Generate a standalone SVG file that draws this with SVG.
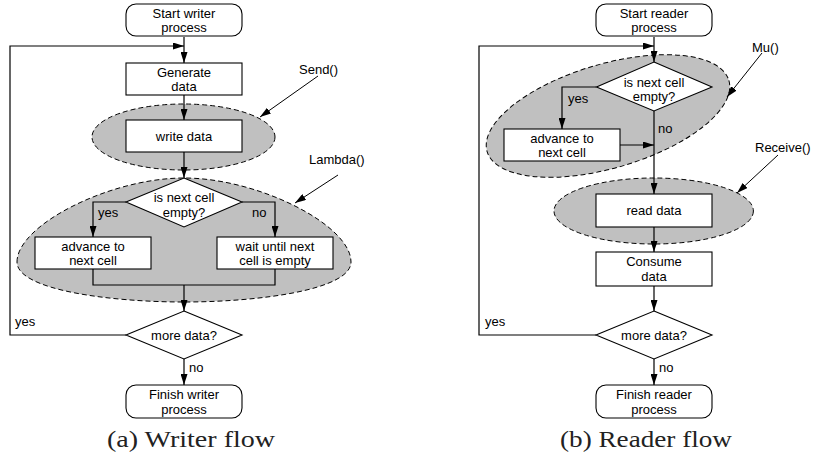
<svg xmlns="http://www.w3.org/2000/svg" width="816" height="458" viewBox="0 0 816 458">
  <defs>
    <marker id="ah" markerUnits="userSpaceOnUse" markerWidth="11" markerHeight="7" refX="11" refY="3.5" orient="auto">
      <path d="M0,0 L11,3.5 L0,7 Z" fill="#000"/>
    </marker>
    <style>
      .region { fill: #c0c0c0; stroke: #000; stroke-width: 1; stroke-dasharray: 5 3; }
      .box { fill: #fff; stroke: #000; stroke-width: 1.1; }
      .term { fill: #fff; stroke: #000; stroke-width: 1.1; }
      .dec { fill: #fff; stroke: #000; stroke-width: 1.1; }
      .edge { fill: none; stroke: #000; stroke-width: 1.2; }
      .call { fill: none; stroke: #000; stroke-width: 1; }
      text { font-family: "Liberation Sans", Arial, sans-serif; font-size: 13px; fill: #000; }
      .c { text-anchor: middle; }
      .cap { font-family: "Liberation Serif", "Times New Roman", serif; font-size: 24px; fill: #222; text-anchor: middle; }
    </style>
  </defs>

  <!-- ===== (a) writer flow: dashed function regions ===== -->
  <g id="send-region">
    <ellipse class="region" cx="183.5" cy="137" rx="91.5" ry="33"/>
  </g>
  <g id="lambda-region">
    <path class="region" d="M17,262 C17,225 110,178 184,178 C258,178 351,225 351,262 C351,290 258,302 184,302 C110,302 17,290 17,262 Z"/>
  </g>

  <!-- ===== (b) reader flow: dashed function regions ===== -->
  <g id="mu-region">
    <ellipse class="region" cx="0" cy="0" rx="126" ry="52" transform="translate(608,116) rotate(-16.4)"/>
  </g>
  <g id="receive-region">
    <ellipse class="region" cx="653.7" cy="211" rx="99.7" ry="33"/>
  </g>

  <g id="connectors">
    <!-- writer -->
    <path class="edge" d="M184,37 V63" marker-end="url(#ah)"/>
    <path class="edge" d="M126,335 H10 V46 H184" marker-end="url(#ah)"/>
    <path class="edge" d="M184,95 V120" marker-end="url(#ah)"/>
    <path class="edge" d="M184,152 V178" marker-end="url(#ah)"/>
    <path class="edge" d="M126,202 H93 V237" marker-end="url(#ah)"/>
    <path class="edge" d="M242,202 H275 V237" marker-end="url(#ah)"/>
    <path class="edge" d="M93,269 V285 H275 V269"/>
    <path class="edge" d="M184,285 V311" marker-end="url(#ah)"/>
    <path class="edge" d="M184,359 V385" marker-end="url(#ah)"/>
    <path class="call" d="M318,76 L260,117" marker-end="url(#ah)"/>
    <path class="call" d="M338,175 L295,203" marker-end="url(#ah)"/>
    <!-- reader -->
    <path class="edge" d="M654,37 V62" marker-end="url(#ah)"/>
    <path class="edge" d="M596,335 H479 V46 H654" marker-end="url(#ah)"/>
    <path class="edge" d="M596.5,87 H562 V129" marker-end="url(#ah)"/>
    <path class="edge" d="M620,145 H654" marker-end="url(#ah)"/>
    <path class="edge" d="M654,111 V194" marker-end="url(#ah)"/>
    <path class="edge" d="M654,227 V252" marker-end="url(#ah)"/>
    <path class="edge" d="M654,286 V311" marker-end="url(#ah)"/>
    <path class="edge" d="M654,359 V385" marker-end="url(#ah)"/>
    <path class="call" d="M762,53 L727,97" marker-end="url(#ah)"/>
    <path class="call" d="M778,155 L737,193" marker-end="url(#ah)"/>

    <!-- branch labels -->
    <text x="98" y="217">yes</text>
    <text x="252" y="217">no</text>
    <text x="15" y="326">yes</text>
    <text x="189" y="372">no</text>
    <text x="568" y="103">yes</text>
    <text x="658" y="133">no</text>
    <text x="485" y="326">yes</text>
    <text x="659" y="372">no</text>
  </g>

  <!-- writer nodes -->
  <g id="start-writer">
    <rect class="term" x="126" y="4" width="116" height="32" rx="10"/>
    <text class="c" x="184" y="17.5">Start writer</text>
    <text class="c" x="184" y="32">process</text>
  </g>
  <g id="generate-data">
    <rect class="box" x="126" y="63" width="116" height="32"/>
    <text class="c" x="184" y="76.5">Generate</text>
    <text class="c" x="184" y="91">data</text>
  </g>
  <g id="write-data">
    <rect class="box" x="126" y="120" width="116" height="32"/>
    <text class="c" x="184" y="140.5">write data</text>
  </g>
  <g id="writer-cell-check">
    <polygon class="dec" points="184,178 242,202 184,227 126,202"/>
    <text class="c" x="184" y="202">is next cell</text>
    <text class="c" x="184" y="216.5">empty?</text>
  </g>
  <g id="writer-advance">
    <rect class="box" x="35" y="237" width="116" height="32"/>
    <text class="c" x="93" y="250.5">advance to</text>
    <text class="c" x="93" y="265">next cell</text>
  </g>
  <g id="writer-wait">
    <rect class="box" x="217" y="237" width="116" height="32"/>
    <text class="c" x="275" y="250.5">wait until next</text>
    <text class="c" x="275" y="265">cell is empty</text>
  </g>
  <g id="writer-more">
    <polygon class="dec" points="184,311 242,335 184,359 126,335"/>
    <text class="c" x="184" y="340">more data?</text>
  </g>
  <g id="finish-writer">
    <rect class="term" x="126" y="385" width="116" height="33" rx="10"/>
    <text class="c" x="184" y="399">Finish writer</text>
    <text class="c" x="184" y="413.5">process</text>
  </g>
  <g id="send-label"><text x="299" y="74">Send()</text></g>
  <g id="lambda-label"><text x="309" y="164">Lambda()</text></g>

  <!-- reader nodes -->
  <g id="start-reader">
    <rect class="term" x="596" y="4" width="116" height="32" rx="10"/>
    <text class="c" x="654" y="17.5">Start reader</text>
    <text class="c" x="654" y="32">process</text>
  </g>
  <g id="reader-cell-check">
    <polygon class="dec" points="654,62 712,87 654,111 596.5,87"/>
    <text class="c" x="654" y="86.5">is next cell</text>
    <text class="c" x="654" y="101">empty?</text>
  </g>
  <g id="reader-advance">
    <rect class="box" x="504" y="129" width="116" height="32"/>
    <text class="c" x="562" y="142.5">advance to</text>
    <text class="c" x="562" y="157">next cell</text>
  </g>
  <g id="read-data">
    <rect class="box" x="596" y="194" width="116" height="33"/>
    <text class="c" x="654" y="215">read data</text>
  </g>
  <g id="consume-data">
    <rect class="box" x="596" y="252" width="116" height="34"/>
    <text class="c" x="654" y="266">Consume</text>
    <text class="c" x="654" y="280.5">data</text>
  </g>
  <g id="reader-more">
    <polygon class="dec" points="654,311 712,335 654,359 596,335"/>
    <text class="c" x="654" y="340">more data?</text>
  </g>
  <g id="finish-reader">
    <rect class="term" x="596" y="385" width="116" height="33" rx="10"/>
    <text class="c" x="654" y="399">Finish reader</text>
    <text class="c" x="654" y="413.5">process</text>
  </g>
  <g id="mu-label"><text x="752" y="52">Mu()</text></g>
  <g id="receive-label"><text x="755" y="152">Receive()</text></g>

  <!-- captions -->
  <text class="cap" x="191" y="447" textLength="168" lengthAdjust="spacingAndGlyphs">(a) Writer flow</text>
  <text class="cap" x="646" y="447" textLength="172" lengthAdjust="spacingAndGlyphs">(b) Reader flow</text>
</svg>
